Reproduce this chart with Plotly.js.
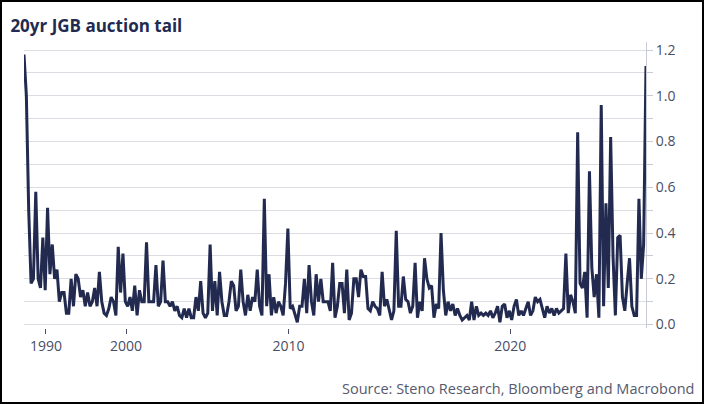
<!DOCTYPE html>
<html>
<head>
<meta charset="utf-8">
<script src="https://cdn.plot.ly/plotly-3.0.1.min.js"></script>
<style>
  body { margin: 0; background: #fff; }
  #chart { width: 704px; height: 404px; box-sizing: border-box; border: 2px solid #000; }
</style>
</head>
<body>
<div id="chart"></div>
<script>
// auction tail values, one per auction
const tail = [
  1.18, 1.0, 0.5, 0.18, 0.2, 0.58, 0.2, 0.16, 0.38, 0.15,
  0.51, 0.22, 0.35, 0.2, 0.24, 0.1, 0.14, 0.14, 0.05, 0.05,
  0.2, 0.08, 0.22, 0.2, 0.12, 0.15, 0.08, 0.14, 0.08, 0.1,
  0.16, 0.08, 0.23, 0.1, 0.05, 0.04, 0.07, 0.12, 0.1, 0.04,
  0.34, 0.14, 0.31, 0.1, 0.08, 0.12, 0.06, 0.17, 0.04, 0.15,
  0.1, 0.1, 0.36, 0.1, 0.1, 0.1, 0.26, 0.08, 0.1, 0.28,
  0.1, 0.1, 0.08, 0.1, 0.06, 0.08, 0.04, 0.03, 0.07, 0.03,
  0.07, 0.03, 0.03, 0.12, 0.06, 0.19, 0.05, 0.03, 0.05, 0.35,
  0.06, 0.19, 0.04, 0.23, 0.1, 0.04, 0.04, 0.1, 0.19, 0.17,
  0.06, 0.08, 0.24, 0.1, 0.04, 0.13, 0.06, 0.12, 0.1, 0.24,
  0.08, 0.04, 0.55, 0.08, 0.22, 0.04, 0.12, 0.05, 0.1, 0.08,
  0.04, 0.18, 0.42, 0.07, 0.08, 0.04, 0.01, 0.08, 0.08, 0.2,
  0.05, 0.26, 0.1, 0.04, 0.22, 0.1, 0.2, 0.1, 0.1, 0.1,
  0.06, 0.27, 0.03, 0.08, 0.18, 0.18, 0.05, 0.24, 0.02, 0.05,
  0.2, 0.2, 0.12, 0.24, 0.21, 0.21, 0.07, 0.06, 0.1, 0.08,
  0.07, 0.04, 0.23, 0.08, 0.11, 0.06, 0.02, 0.06, 0.41, 0.08,
  0.08, 0.21, 0.11, 0.1, 0.05, 0.08, 0.27, 0.03, 0.1, 0.06,
  0.29, 0.2, 0.16, 0.17, 0.03, 0.09, 0.07, 0.4, 0.15, 0.04,
  0.1, 0.06, 0.09, 0.04, 0.07, 0.04, 0.02, 0.03, 0.04, 0.02,
  0.1, 0.02, 0.08, 0.04, 0.05, 0.04, 0.05, 0.04, 0.06, 0.03,
  0.05, 0.08, 0.01, 0.08, 0.09, 0.03, 0.06, 0.02, 0.08, 0.11,
  0.04, 0.06, 0.04, 0.07, 0.1, 0.04, 0.06, 0.12, 0.1, 0.11,
  0.07, 0.03, 0.08, 0.05, 0.07, 0.04, 0.07, 0.05, 0.06, 0.07,
  0.31, 0.05, 0.13, 0.1, 0.05, 0.84, 0.18, 0.16, 0.23, 0.03,
  0.67, 0.25, 0.12, 0.22, 0.03, 0.96, 0.08, 0.53, 0.16, 0.82,
  0.3, 0.04, 0.38, 0.39, 0.12, 0.06, 0.18, 0.29, 0.08, 0.04,
  0.04, 0.55, 0.2, 0.35, 1.13
];
// auction number where each year label sits
const yearTickPos = [9.3, 43.3, 112.3, 206.4];
const yearTickText = ['1990', '2000', '2010', '2020'];

const auctionNo = tail.map((_, i) => i);

const trace = {
  x: auctionNo,
  y: tail,
  type: 'scatter',
  mode: 'lines',
  line: { color: '#222a50', width: 3 },
  hoverinfo: 'skip'
};

const layout = {
  width: 700,
  height: 400,
  paper_bgcolor: '#fff',
  plot_bgcolor: '#fff',
  showlegend: false,
  font: { family: 'Open Sans, sans-serif', color: '#4a4d66' },
  margin: { l: 22, r: 56, t: 40, b: 74 },
  title: {
    text: '<b>20yr JGB auction tail</b>',
    x: 0.012, xanchor: 'left', y: 0.955, yanchor: 'top',
    font: { size: 17, color: '#222a50' }
  },
  xaxis: {
    range: [0, tail.length - 1],
    tickmode: 'array',
    tickvals: yearTickPos,
    ticktext: yearTickText,
    ticks: 'outside', ticklen: 5, tickcolor: '#4a4d66',
    showgrid: false, zeroline: false, showline: false,
    tickfont: { size: 14 }
  },
  yaxis: {
    side: 'right',
    range: [-0.015, 1.235],
    dtick: 0.2, tickformat: '.1f',
    ticks: 'outside', ticklen: 6, tickcolor: '#c8cad6',
    showline: true, linecolor: '#c8cad6',
    gridcolor: '#dcdde3', zeroline: false,
    minor: { dtick: 0.1, showgrid: true, gridcolor: '#dcdde3', ticks: 'outside', ticklen: 6, tickcolor: '#c8cad6' },
    tickfont: { size: 14 }
  },
  annotations: [{
    text: 'Source: Steno Research, Bloomberg and Macrobond',
    xref: 'paper', yref: 'paper', x: 1.08, y: -0.17,
    xanchor: 'right', yanchor: 'top', showarrow: false,
    font: { size: 14.5, color: '#555a6e' }
  }]
};

Plotly.newPlot('chart', [trace], layout, { displayModeBar: false, staticPlot: true });
</script>
</body>
</html>
